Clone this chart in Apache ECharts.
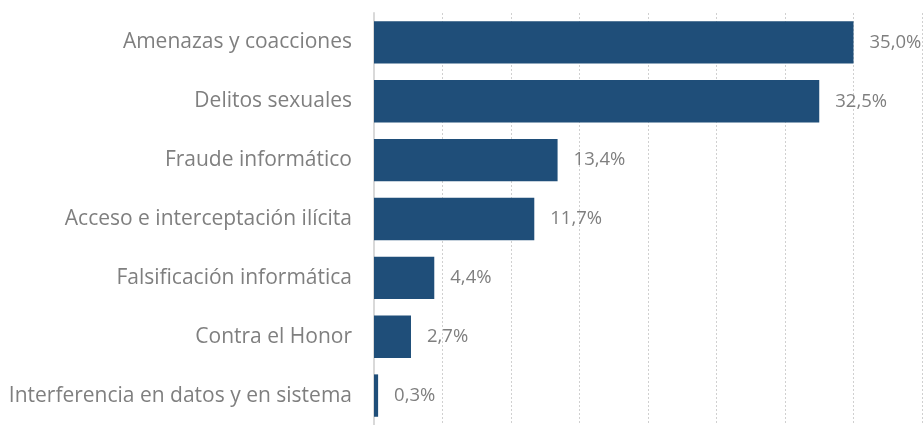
<!DOCTYPE html>
<html>
<head>
<meta charset="utf-8">
<script src="https://cdn.jsdelivr.net/npm/echarts@6/dist/echarts.min.js"></script>
<style>
	html, body { margin: 0; padding: 0; background: #fff; }
	#chart { width: 923px; height: 425px; }
</style>
</head>
<body>
<div id="chart"></div>
<script>
	// Categories top to bottom
	var categories = [
		'Amenazas y coacciones',
		'Delitos sexuales',
		'Fraude informático',
		'Acceso e interceptación ilícita',
		'Falsificación informática',
		'Contra el Honor',
		'Interferencia en datos y en sistema'
	];
	var shares = [35.0, 32.5, 13.4, 11.7, 4.4, 2.7, 0.3];

	var chart = echarts.init(document.getElementById('chart'));

	chart.setOption({
		animation: false,
		grid: { left: 374, right: 1, top: 13, bottom: -7, containLabel: false },
		xAxis: {
			type: 'value',
			min: 0,
			max: 40,
			interval: 5,
			axisLine: { show: false },
			axisTick: { show: false },
			axisLabel: { show: false },
			splitLine: { show: true, lineStyle: { color: '#d0d0d0', type: [2, 2], width: 1 } }
		},
		yAxis: {
			type: 'category',
			inverse: true,
			data: categories,
			axisLine: { show: true, lineStyle: { color: '#d9d9d9', width: 2 } },
			axisTick: { show: false },
			axisLabel: {
				margin: 22,
				color: '#7f7f7f',
				fontFamily: 'Open Sans',
				fontSize: 21,
				padding: [4, 0, 0, 0]
			}
		},
		series: [{
			type: 'bar',
			data: shares,
			barCategoryGap: '28%',
			itemStyle: { color: '#1f4e79' },
			label: {
				show: true,
				position: 'right',
				distance: 16,
				color: '#7f7f7f',
				fontFamily: 'Open Sans',
				fontSize: 18.5,
				formatter: function (p) {
					return p.value.toFixed(1).replace('.', ',') + '%';
				}
			}
		}]
	});
</script>
</body>
</html>
